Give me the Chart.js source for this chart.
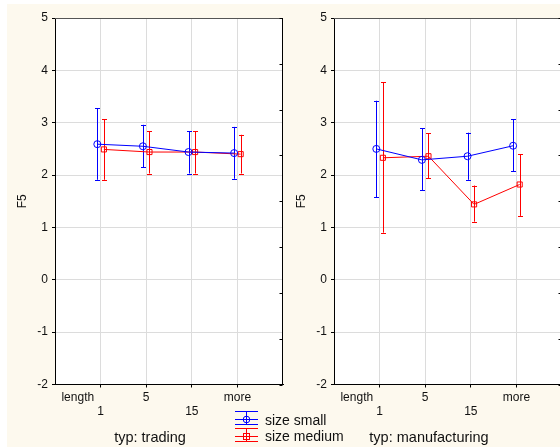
<!DOCTYPE html>
<html>
<head>
<meta charset="utf-8">
<script src="https://cdn.jsdelivr.net/npm/chart.js@4/dist/chart.umd.min.js"></script>
<style>
  html, body { margin: 0; padding: 0; width: 560px; height: 447px; overflow: hidden; background: #ffffff; }
  #bg { position: absolute; left: 7px; top: 4px; width: 553px; height: 443px; background: #fdf9ee; }
  canvas { position: absolute; top: 0; }
  #c1 { left: 0px; }
  #c2 { left: 279px; }
  .ptitle { position: absolute; top: 428px; width: 200px; text-align: center; font-family: "Liberation Sans", Arial, sans-serif; font-size: 14.5px; color: #111; line-height: 18px; white-space: nowrap; }
  #legend { position: absolute; left: 235px; top: 411px; font-family: "Liberation Sans", Arial, sans-serif; font-size: 14px; color: #111; }
  .row { position: relative; height: 16px; line-height: 16px; white-space: nowrap; }
  .row svg { position: absolute; left: 0; top: 0; }
  .row span { position: absolute; left: 30px; top: 1px; }
</style>
</head>
<body>
<div id="bg"></div>
<canvas id="c1" width="290" height="447"></canvas>
<canvas id="c2" width="290" height="447"></canvas>
<div class="ptitle" id="t1" style="left:50px"></div>
<div class="ptitle" id="t2" style="left:329px"></div>
<div id="legend">
  <div class="row">
    <svg width="24" height="16"><g stroke="#0000ff" stroke-width="1" fill="none">
      <line x1="0" y1="0.5" x2="23" y2="0.5"/><line x1="0" y1="8.5" x2="23" y2="8.5"/><line x1="0" y1="13.5" x2="23" y2="13.5"/>
      <line x1="11.5" y1="0.5" x2="11.5" y2="13.5"/><circle cx="11.5" cy="8.5" r="3.3"/></g></svg>
    <span id="lg1"></span>
  </div>
  <div class="row">
    <svg width="24" height="17"><g stroke="#ff0000" stroke-width="1" fill="none">
      <line x1="0" y1="1.5" x2="23" y2="1.5"/><line x1="0" y1="9.5" x2="23" y2="9.5"/><line x1="0" y1="14.5" x2="23" y2="14.5"/>
      <line x1="11.5" y1="1.5" x2="11.5" y2="14.5"/><rect x="8.5" y="6.5" width="6" height="6"/></g></svg>
    <span id="lg2"></span>
  </div>
</div>
<script>
// ---- data ----
const categories = ['1', '5', '15', 'more'];
const axisName = 'length';
const seriesNames = ['size small', 'size medium'];
const panelTitles = ['typ: trading', 'typ: manufacturing'];
const yTicks = [-2, -1, 0, 1, 2, 3, 4, 5];

const tradingSmall     = [2.59, 2.55, 2.44, 2.42];
const tradingSmallLow  = [1.91, 2.15, 2.03, 1.93];
const tradingSmallHigh = [3.28, 2.96, 2.84, 2.92];
const tradingMedium     = [2.49, 2.44, 2.44, 2.40];
const tradingMediumLow  = [1.91, 2.03, 2.03, 2.03];
const tradingMediumHigh = [3.07, 2.84, 2.84, 2.77];

const manufSmall     = [2.50, 2.29, 2.36, 2.56];
const manufSmallLow  = [1.58, 1.71, 1.91, 2.07];
const manufSmallHigh = [3.42, 2.89, 2.81, 3.07];
const manufMedium     = [2.33, 2.36, 1.44, 1.82];
const manufMediumLow  = [0.90, 1.94, 1.11, 1.22];
const manufMediumHigh = [3.77, 2.80, 1.80, 2.40];

document.getElementById('lg1').textContent = seriesNames[0];
document.getElementById('lg2').textContent = seriesNames[1];
document.getElementById('t1').textContent = panelTitles[0];
document.getElementById('t2').textContent = panelTitles[1];

const FONT = '"Liberation Sans", Arial, sans-serif';
const GRID = '#dcdcdc';
const LEFT_MARK = 0.5;

const bgPlugin = {
  id: 'plotBg',
  beforeDraw(chart) {
    const a = chart.chartArea, ctx = chart.ctx;
    ctx.save(); ctx.fillStyle = '#ffffff';
    ctx.fillRect(a.left, a.top, a.right - a.left, a.bottom - a.top);
    ctx.restore();
  },
  beforeDatasetsDraw(chart) {
    const a = chart.chartArea, ctx = chart.ctx;
    ctx.save();
    ctx.lineWidth = 1;
    ctx.strokeStyle = '#555555';
    ctx.beginPath(); ctx.moveTo(a.left, a.top + 0.5); ctx.lineTo(a.right, a.top + 0.5); ctx.stroke();
    // right frame with inward ticks
    const r = Math.round(a.right) - 0.5;
    ctx.strokeStyle = '#000000';
    ctx.beginPath(); ctx.moveTo(r, a.top); ctx.lineTo(r, a.bottom + 0.5); ctx.stroke();
    const y2 = chart.scales.y2;
    y2.ticks.forEach(t => {
      const py = Math.round(y2.getPixelForValue(t.value)) + 0.5;
      ctx.beginPath(); ctx.moveTo(r - 3, py); ctx.lineTo(r, py); ctx.stroke();
    });
    // error bars
    const xs = chart.scales.x, ys = chart.scales.y;
    chart.data.datasets.forEach(ds => {
      ctx.strokeStyle = ds.borderColor;
      ds.data.forEach((p, j) => {
        const x = Math.round(xs.getPixelForValue(p.x)) + 0.5;
        const y1 = ys.getPixelForValue(ds.errLow[j]);
        const yh = ys.getPixelForValue(ds.errHigh[j]);
        ctx.beginPath();
        ctx.moveTo(x, y1); ctx.lineTo(x, yh);
        ctx.moveTo(x - 2.5, Math.round(y1) + 0.5); ctx.lineTo(x + 2.5, Math.round(y1) + 0.5);
        ctx.moveTo(x - 2.5, Math.round(yh) + 0.5); ctx.lineTo(x + 2.5, Math.round(yh) + 0.5);
        ctx.stroke();
      });
    });
    ctx.restore();
  }
};

function pts(vals, off) { return vals.map((v, i) => ({ x: i + 1 + off, y: v })); }

function makeChart(id, s, sLo, sHi, m, mLo, mHi) {
  return new Chart(document.getElementById(id), {
    type: 'line',
    data: {
      datasets: [
        { label: seriesNames[0], data: pts(s, -0.072), errLow: sLo, errHigh: sHi,
          borderColor: '#0000ff', backgroundColor: 'rgba(0,0,0,0)', borderWidth: 1,
          pointStyle: 'circle', pointRadius: 3.5, pointBorderWidth: 1, pointBackgroundColor: 'rgba(0,0,0,0)',
          pointBorderColor: '#0000ff', tension: 0 },
        { label: seriesNames[1], data: pts(m, 0.072), errLow: mLo, errHigh: mHi,
          borderColor: '#ff0000', backgroundColor: 'rgba(0,0,0,0)', borderWidth: 1,
          pointStyle: 'rect', pointRadius: 3.6, pointBorderWidth: 1, pointBackgroundColor: 'rgba(0,0,0,0)',
          pointBorderColor: '#ff0000', tension: 0 }
      ]
    },
    options: {
      responsive: false, animation: false, devicePixelRatio: 1,
      layout: { padding: { top: 18, left: 0, right: 0, bottom: 0 } },
      plugins: { legend: { display: false }, tooltip: { enabled: false } },
      scales: {
        x: {
          type: 'linear', min: 0, max: 5,
          afterFit(sc) { sc.height = 62.5; },
          afterBuildTicks(sc) { sc.ticks = [LEFT_MARK].concat(categories.map((c, i) => i + 1)).map(v => ({ value: v })); },
          ticks: {
            autoSkip: false, maxRotation: 0, padding: 3.5, color: '#111',
            font: { family: FONT, size: 12, lineHeight: 1.17 },
            callback(v) {
              if (v === LEFT_MARK) return [axisName, ''];
              const i = v - 1;
              return i % 2 === 1 ? [categories[i], ''] : ['', categories[i]];
            }
          },
          grid: {
            color: c => (c.tick && c.tick.value === LEFT_MARK) ? 'rgba(0,0,0,0)' : GRID,
            tickColor: c => (c.tick && c.tick.value === LEFT_MARK) ? 'rgba(0,0,0,0)' : '#000',
            tickLength: 3, lineWidth: 1
          },
          border: { color: '#000', width: 1 }
        },
        y: {
          type: 'linear', min: yTicks[0], max: yTicks[yTicks.length - 1], position: 'left',
          afterFit(sc) { sc.width = 55; },
          afterBuildTicks(sc) { sc.ticks = yTicks.map(v => ({ value: v })); },
          ticks: { padding: 4, color: '#111', font: { family: FONT, size: 12 } },
          grid: { color: GRID, tickColor: '#000', tickLength: 3 },
          border: { color: '#000', width: 1 },
          title: { display: true, text: 'F5', color: '#111', font: { family: FONT, size: 12 }, padding: { top: 15, bottom: 0 } }
        },
        y2: {
          type: 'linear', min: 0, max: 8, position: 'right',
          afterFit(sc) { sc.width = 7; },
          ticks: { display: false, stepSize: 1 },
          grid: { display: false },
          border: { display: false }
        }
      }
    },
    plugins: [bgPlugin]
  });
}

makeChart('c1', tradingSmall, tradingSmallLow, tradingSmallHigh, tradingMedium, tradingMediumLow, tradingMediumHigh);
makeChart('c2', manufSmall, manufSmallLow, manufSmallHigh, manufMedium, manufMediumLow, manufMediumHigh);
</script>
</body>
</html>
